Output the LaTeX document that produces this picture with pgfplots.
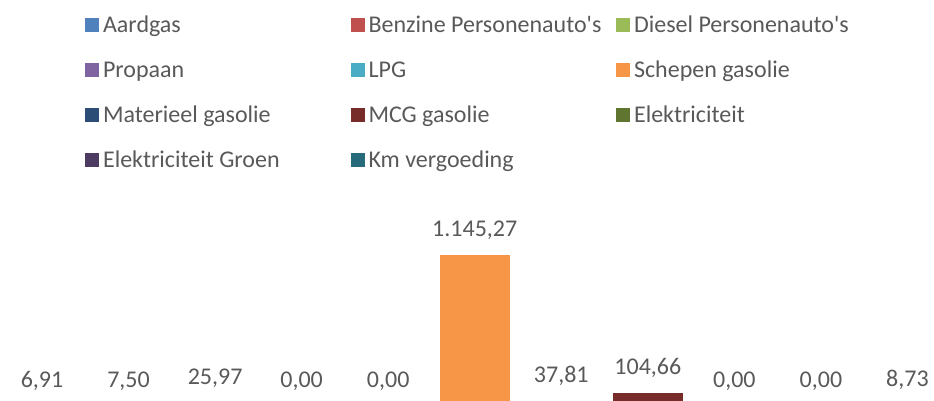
\documentclass[border=0pt]{standalone}
\usepackage{fontspec}
\setmainfont{Carlito}
\newfontfamily\carlito{Carlito}
\usepackage{pgfplots}
\pgfplotsset{compat=1.18}
\definecolor{cA}{HTML}{4F81BD}
\definecolor{cB}{HTML}{C0504D}
\definecolor{cC}{HTML}{9BBB59}
\definecolor{cD}{HTML}{8064A2}
\definecolor{cE}{HTML}{4BACC6}
\definecolor{cF}{HTML}{F79646}
\definecolor{cG}{HTML}{2C4D75}
\definecolor{cH}{HTML}{772C2A}
\definecolor{cI}{HTML}{5F7530}
\definecolor{cJ}{HTML}{4D3B62}
\definecolor{cK}{HTML}{276A7C}
\definecolor{txt}{HTML}{595959}
\newcommand\LE[1]{\makebox[251.5pt][l]{\hspace{4pt}#1}}
\begin{document}
\begin{tikzpicture}[font=\carlito\fontsize{24}{28}\selectfont]
\path[use as bounding box] (0,0) rectangle (934pt,401pt);
\clip (0,0) rectangle (934pt,401pt);
\begin{axis}[
  at={(42pt,-5.5pt)}, anchor=origin,
  scale only axis, width=952pt, height=185.8pt,
  xmin=-0.5, xmax=10.5, ymin=0, ymax=1400,
  hide axis,
  ybar, bar width=70pt,
  every axis plot/.append style={bar shift=0pt, draw=none},
  every axis plot post/.append style={legend image code/.code={\fill[##1] (0pt,-7pt) rectangle (14pt,7pt);}},
  nodes near coords,
  every node near coord/.append style={anchor=base, inner sep=0pt, yshift=18.5pt, text=txt, font=\carlito\fontsize{24}{28}\selectfont},
  /pgf/number format/use comma,
  /pgf/number format/1000 sep={.},
  /pgf/number format/fixed,
  /pgf/number format/fixed zerofill,
  /pgf/number format/precision=2,
  /pgf/number format/assume math mode=true,
  legend columns=3,
  legend cell align=left,
  legend style={at={(0.0907,2.1109)}, anchor=north west, draw=none, fill=none,
    inner sep=0pt, outer sep=0pt, row sep=24.5pt, column sep=0pt,
    nodes={inner sep=0pt, text height=18pt, text depth=2.5pt, text=txt, font=\carlito\fontsize{24}{28}\selectfont}},
]
\addplot[fill=cA] coordinates {(0,6.91)};
\addlegendentry{\LE{Aardgas}}
\addplot[fill=cB] coordinates {(1,7.50)};
\addlegendentry{\LE{Benzine Personenauto's}}
\addplot[fill=cC] coordinates {(2,25.97)};
\addlegendentry{\LE{Diesel Personenauto's}}
\addplot[fill=cD] coordinates {(3,0)};
\addlegendentry{\LE{Propaan}}
\addplot[fill=cE] coordinates {(4,0)};
\addlegendentry{\LE{LPG}}
\addplot[fill=cF] coordinates {(5,1145.27)};
\addlegendentry{\LE{Schepen gasolie}}
\addplot[fill=cG] coordinates {(6,37.81)};
\addlegendentry{\LE{Materieel gasolie}}
\addplot[fill=cH] coordinates {(7,104.66)};
\addlegendentry{\LE{MCG gasolie}}
\addplot[fill=cI] coordinates {(8,0)};
\addlegendentry{\LE{Elektriciteit}}
\addplot[fill=cJ] coordinates {(9,0)};
\addlegendentry{\LE{Elektriciteit Groen}}
\addplot[fill=cK] coordinates {(10,8.73)};
\addlegendentry{\LE{Km vergoeding}}
\end{axis}
\end{tikzpicture}
\end{document}
